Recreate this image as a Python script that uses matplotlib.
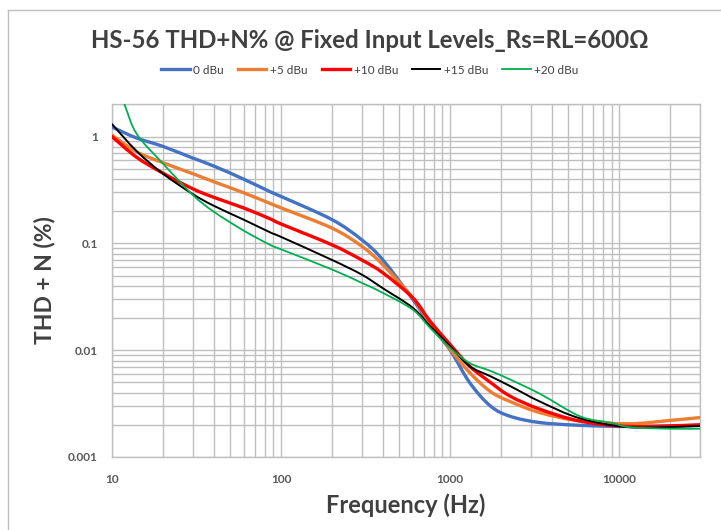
import numpy as np
import matplotlib
matplotlib.use("Agg")
import matplotlib.pyplot as plt
from matplotlib.lines import Line2D
from matplotlib.path import Path
from matplotlib.patches import PathPatch
from matplotlib.ticker import FixedLocator, FixedFormatter, LogLocator, NullFormatter

plt.rcParams['font.family'] = ['Lato', 'DejaVu Sans']

# ---- data ----
series_names = ["0 dBu", "+5 dBu", "+10 dBu", "+15 dBu", "+20 dBu"]

freq_0 = [10, 14, 20, 30, 40, 60, 86, 100, 200, 300, 400, 600, 760, 1000, 1300,
          1730, 2270, 3400, 5870, 11600, 30000]
thd_0 = [1.23, 0.97, 0.81, 0.63, 0.53, 0.40, 0.305, 0.275, 0.167, 0.108, 0.070, 0.030, 0.0174,
         0.0100, 0.0050, 0.0030, 0.0024, 0.0021, 0.00198, 0.00193, 0.00198]

freq_5 = [10, 14, 20, 30, 40, 60, 86, 100, 200, 300, 400, 600, 760, 1000, 1300,
          1730, 2270, 3400, 5870, 11600, 20000, 30000]
thd_5 = [1.03, 0.72, 0.57, 0.45, 0.378, 0.298, 0.237, 0.215, 0.139, 0.094, 0.063, 0.031, 0.018,
         0.0102, 0.0062, 0.0041, 0.0033, 0.0026, 0.00217, 0.00205, 0.0022, 0.00234]

freq_10 = [10, 14, 20, 30, 40, 60, 86, 100, 200, 300, 400, 600, 760, 1000, 1300, 1730, 2270,
           3400, 5870, 11600, 30000]
thd_10 = [1.0, 0.64, 0.455, 0.325, 0.27, 0.215, 0.17, 0.152, 0.097, 0.070, 0.053, 0.031, 0.0187,
          0.0113, 0.0071, 0.0050, 0.0037, 0.0028, 0.00217, 0.00193, 0.0020]

freq_15 = [10, 14, 20, 30, 40, 60, 86, 100, 200, 300, 400, 600, 760, 1000, 1300, 1730, 2270,
           3400, 5870, 11600, 30000]
thd_15 = [1.31, 0.73, 0.45, 0.29, 0.225, 0.167, 0.127, 0.115, 0.070, 0.051, 0.038, 0.025, 0.0168,
          0.0109, 0.0071, 0.0057, 0.0046, 0.0033, 0.0023, 0.0019, 0.00195]

freq_20 = [10, 11.8, 14, 20, 30, 40, 60, 86, 100, 200, 300, 400, 600, 760, 1000, 1300, 1730,
           2270, 3400, 5870, 8850, 11600, 20000, 30000]
thd_20 = [4.2, 2.05, 1.06, 0.56, 0.285, 0.198, 0.132, 0.097, 0.088, 0.057, 0.0427, 0.0344, 0.024,
          0.0162, 0.0105, 0.0076, 0.0064, 0.0053, 0.0039, 0.0024, 0.0021, 0.0019, 0.00184, 0.00184]

x_ticks = [10, 100, 1000, 10000]
x_tick_labels = ["10", "100", "1000", "10000"]
y_ticks = [0.001, 0.01, 0.1, 1]
y_tick_labels = ["0.001", "0.01", "0.1", "1"]

colors = ["#4472C4", "#ED7D31", "#FF0000", "#000000", "#00B050"]
widths = [2.4, 2.4, 2.4, 1.4, 1.3]


def smooth_path(f, v):
    """Excel-style smoothed line: cubic Bezier segments through the data points,
    control points computed in log-log space."""
    lx = np.log10(np.asarray(f, float))
    ly = np.log10(np.asarray(v, float))
    P = np.column_stack([lx, ly])
    n = len(P)
    verts = [P[0]]
    codes = [Path.MOVETO]
    for i in range(n - 1):
        p0 = P[i - 1] if i > 0 else P[i]
        p1, p2 = P[i], P[i + 1]
        p3 = P[i + 2] if i + 2 < n else P[i + 1]
        c1 = p1 + (p2 - p0) / 6.0
        c2 = p2 - (p3 - p1) / 6.0
        verts += [c1, c2, p2]
        codes += [Path.CURVE4] * 3
    verts = 10 ** np.array(verts)
    return Path(verts, codes)


fig = plt.figure(figsize=(7.21, 5.30), dpi=100)
ax = fig.add_axes([112 / 721, 1 - 457 / 530, (700 - 112) / 721, (457 - 104) / 530])

data = [(freq_0, thd_0), (freq_5, thd_5), (freq_10, thd_10), (freq_15, thd_15), (freq_20, thd_20)]
for (f, v), c, w in zip(data, colors, widths):
    patch = PathPatch(smooth_path(f, v), facecolor='none', edgecolor=c, lw=w,
                      capstyle='round', joinstyle='round', zorder=3)
    ax.add_patch(patch)

ax.set_xscale('log')
ax.set_yscale('log')
ax.set_xlim(10, 30000)
ax.set_ylim(0.001, 2.02)

ax.xaxis.set_major_locator(FixedLocator(x_ticks))
ax.xaxis.set_major_formatter(FixedFormatter(x_tick_labels))
ax.yaxis.set_major_locator(FixedLocator(y_ticks))
ax.yaxis.set_major_formatter(FixedFormatter(y_tick_labels))
ax.xaxis.set_minor_locator(LogLocator(base=10, subs=range(2, 10)))
ax.yaxis.set_minor_locator(LogLocator(base=10, subs=range(2, 10)))
ax.xaxis.set_minor_formatter(NullFormatter())
ax.yaxis.set_minor_formatter(NullFormatter())

ax.grid(True, which='both', color='#BFBFBF', lw=1.0)
ax.set_axisbelow(True)
for s in ax.spines.values():
    s.set_color('#BFBFBF')
    s.set_linewidth(1.0)
ax.tick_params(which='both', length=0, colors='#595959', labelsize=8.5)
ax.tick_params(axis='x', pad=12)
ax.tick_params(axis='y', pad=10)
for lab in ax.get_xticklabels() + ax.get_yticklabels():
    lab.set_fontweight('bold')

ax.set_xlabel("Frequency (Hz)", fontsize=17, fontweight='bold', color='#404040', labelpad=6)
ax.set_ylabel("THD + N (%)", fontsize=16.5, fontweight='bold', color='#404040', labelpad=9)

fig.text(370 / 721, 1 - 40 / 530, "HS-56 THD+N% @ Fixed Input Levels_Rs=RL=600Ω",
         ha='center', va='center', fontsize=17.3, fontweight='bold', color='#404040')

handles = [Line2D([], [], color=c, lw=w) for c, w in zip(colors, widths)]
fig.legend(handles, series_names, loc='center', bbox_to_anchor=(370 / 721, 1 - 70 / 530),
           ncol=5, frameon=False, fontsize=8.5, handlelength=2.4, handletextpad=0.3,
           columnspacing=1.2, labelcolor='#404040')

# outer chart-area border (left and top edges visible in the reference)
fig.add_artist(Line2D([8 / 721, 8 / 721], [0, 1 - 10 / 530], color='#BFBFBF', lw=1.0,
                      transform=fig.transFigure))
fig.add_artist(Line2D([8 / 721, 1], [1 - 10 / 530, 1 - 10 / 530], color='#BFBFBF', lw=1.0,
                      transform=fig.transFigure))

fig.savefig("out.png", dpi=100)
